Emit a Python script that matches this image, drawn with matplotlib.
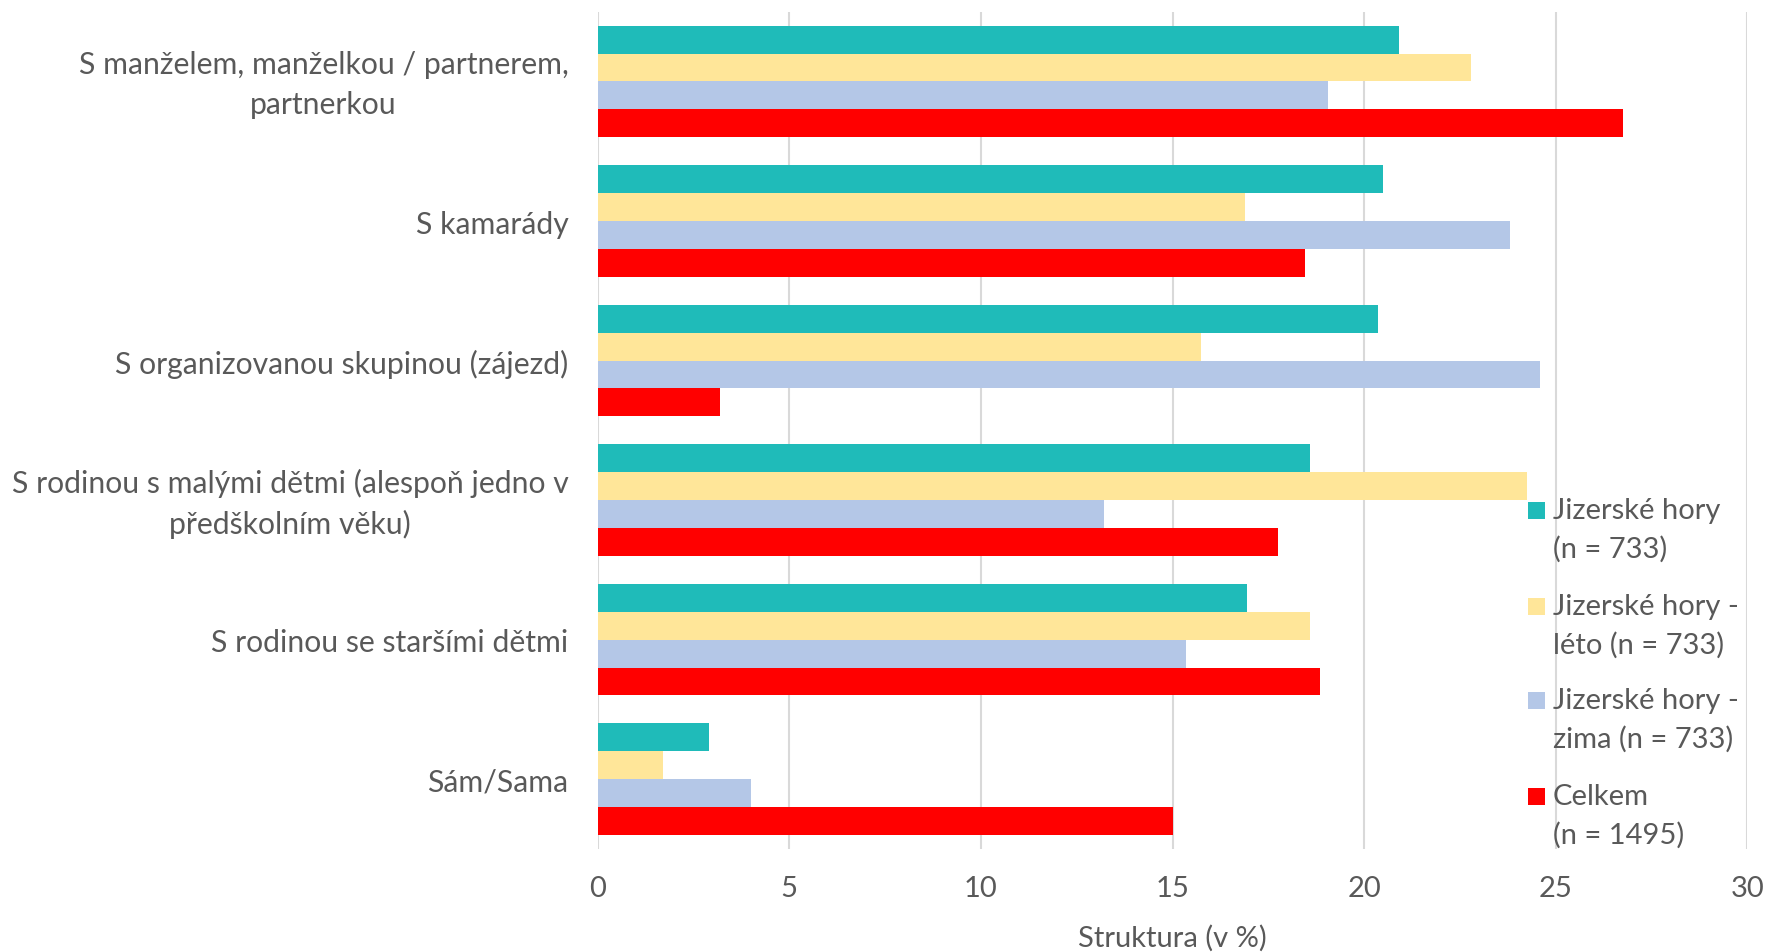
import matplotlib
matplotlib.use("Agg")
import matplotlib.pyplot as plt
from matplotlib.patches import Rectangle
from matplotlib.transforms import ScaledTranslation
import numpy as np

categories = [
    "S manželem, manželkou / partnerem,\npartnerkou",
    "S kamarády",
    "S organizovanou skupinou (zájezd)",
    "S rodinou s malými dětmi (alespoň jedno v\npředškolním věku)",
    "S rodinou se staršími dětmi",
    "Sám/Sama",
]
series_labels = [
    "Jizerské hory\n(n = 733)",
    "Jizerské hory -\nléto (n = 733)",
    "Jizerské hory -\nzima (n = 733)",
    "Celkem\n(n = 1495)",
]
jizerske = [20.9, 20.5, 20.35, 18.6, 16.95, 2.9]
leto = [22.8, 16.9, 15.75, 24.25, 18.6, 1.7]
zima = [19.05, 23.8, 24.6, 13.2, 15.35, 4.0]
celkem = [26.75, 18.45, 3.2, 17.75, 18.85, 15.0]
x_ticks = [0, 5, 10, 15, 20, 25, 30]
x_title = "Struktura (v %)"

colors = ["#1FBBB9", "#FFE699", "#B4C7E7", "#FF0000"]
text_color = "#595959"
plt.rcParams['font.family'] = ['Lato', 'DejaVu Sans']

W, H = 1768, 953
fig = plt.figure(figsize=(W / 100, H / 100), dpi=100)
left, right = 597.6 / W, 1747.4 / W
bottom, top = (H - 850) / H, (H - 12.7) / H
ax = fig.add_axes([left, bottom, right - left, top - bottom])

fs = 21
fs_cat = 21.7
data = [jizerske, leto, zima, celkem]
y = np.arange(len(categories))
bh = 0.2
for i, (vals, c) in enumerate(zip(data, colors)):
    ax.barh(y + (i - 1.5) * bh, vals, height=bh, color=c, zorder=2)

ax.set_xlim(0, 30)
ax.set_ylim(len(categories) - 0.5, -0.5)
ax.set_xticks(x_ticks)
ax.set_xticklabels([str(t) for t in x_ticks])
ax.set_yticks(y)
ylabels = ax.set_yticklabels(categories, multialignment='center', linespacing=1.5, fontsize=fs_cat)
ax.tick_params(axis='x', length=0, labelsize=fs, labelcolor=text_color, pad=19)
ax.tick_params(axis='y', length=0, labelcolor=text_color, pad=21)
shift = ScaledTranslation(0, 5.5 / 100, fig.dpi_scale_trans)
for lab in ylabels:
    if "\n" in lab.get_text():
        lab.set_transform(lab.get_transform() + shift)
ax.xaxis.grid(True, color="#D9D9D9", linewidth=1.5, zorder=0)
ax.set_axisbelow(True)
for s in ax.spines.values():
    s.set_visible(False)
ax.set_xlabel(x_title, fontsize=fs, color=text_color, va='center')
ax.xaxis.set_label_coords(0.5, -88 / 837)

# legend, drawn manually so the key aligns with the first text line
leg_first = [511, 607, 701, 797]
line_gap = 39
sq = 17
for lab, c, yc in zip(series_labels, colors, leg_first):
    fig.patches.append(Rectangle(((1536 - sq / 2) / W, (H - yc - sq / 2) / H), sq / W, sq / H,
                                 transform=fig.transFigure, facecolor=c, edgecolor='none', zorder=5))
    fig.text(1553 / W, (H - yc - line_gap / 2) / H, lab, fontsize=fs, color=text_color,
             ha='left', va='center', linespacing=1.55, zorder=5)

fig.savefig("out.png", dpi=100)
